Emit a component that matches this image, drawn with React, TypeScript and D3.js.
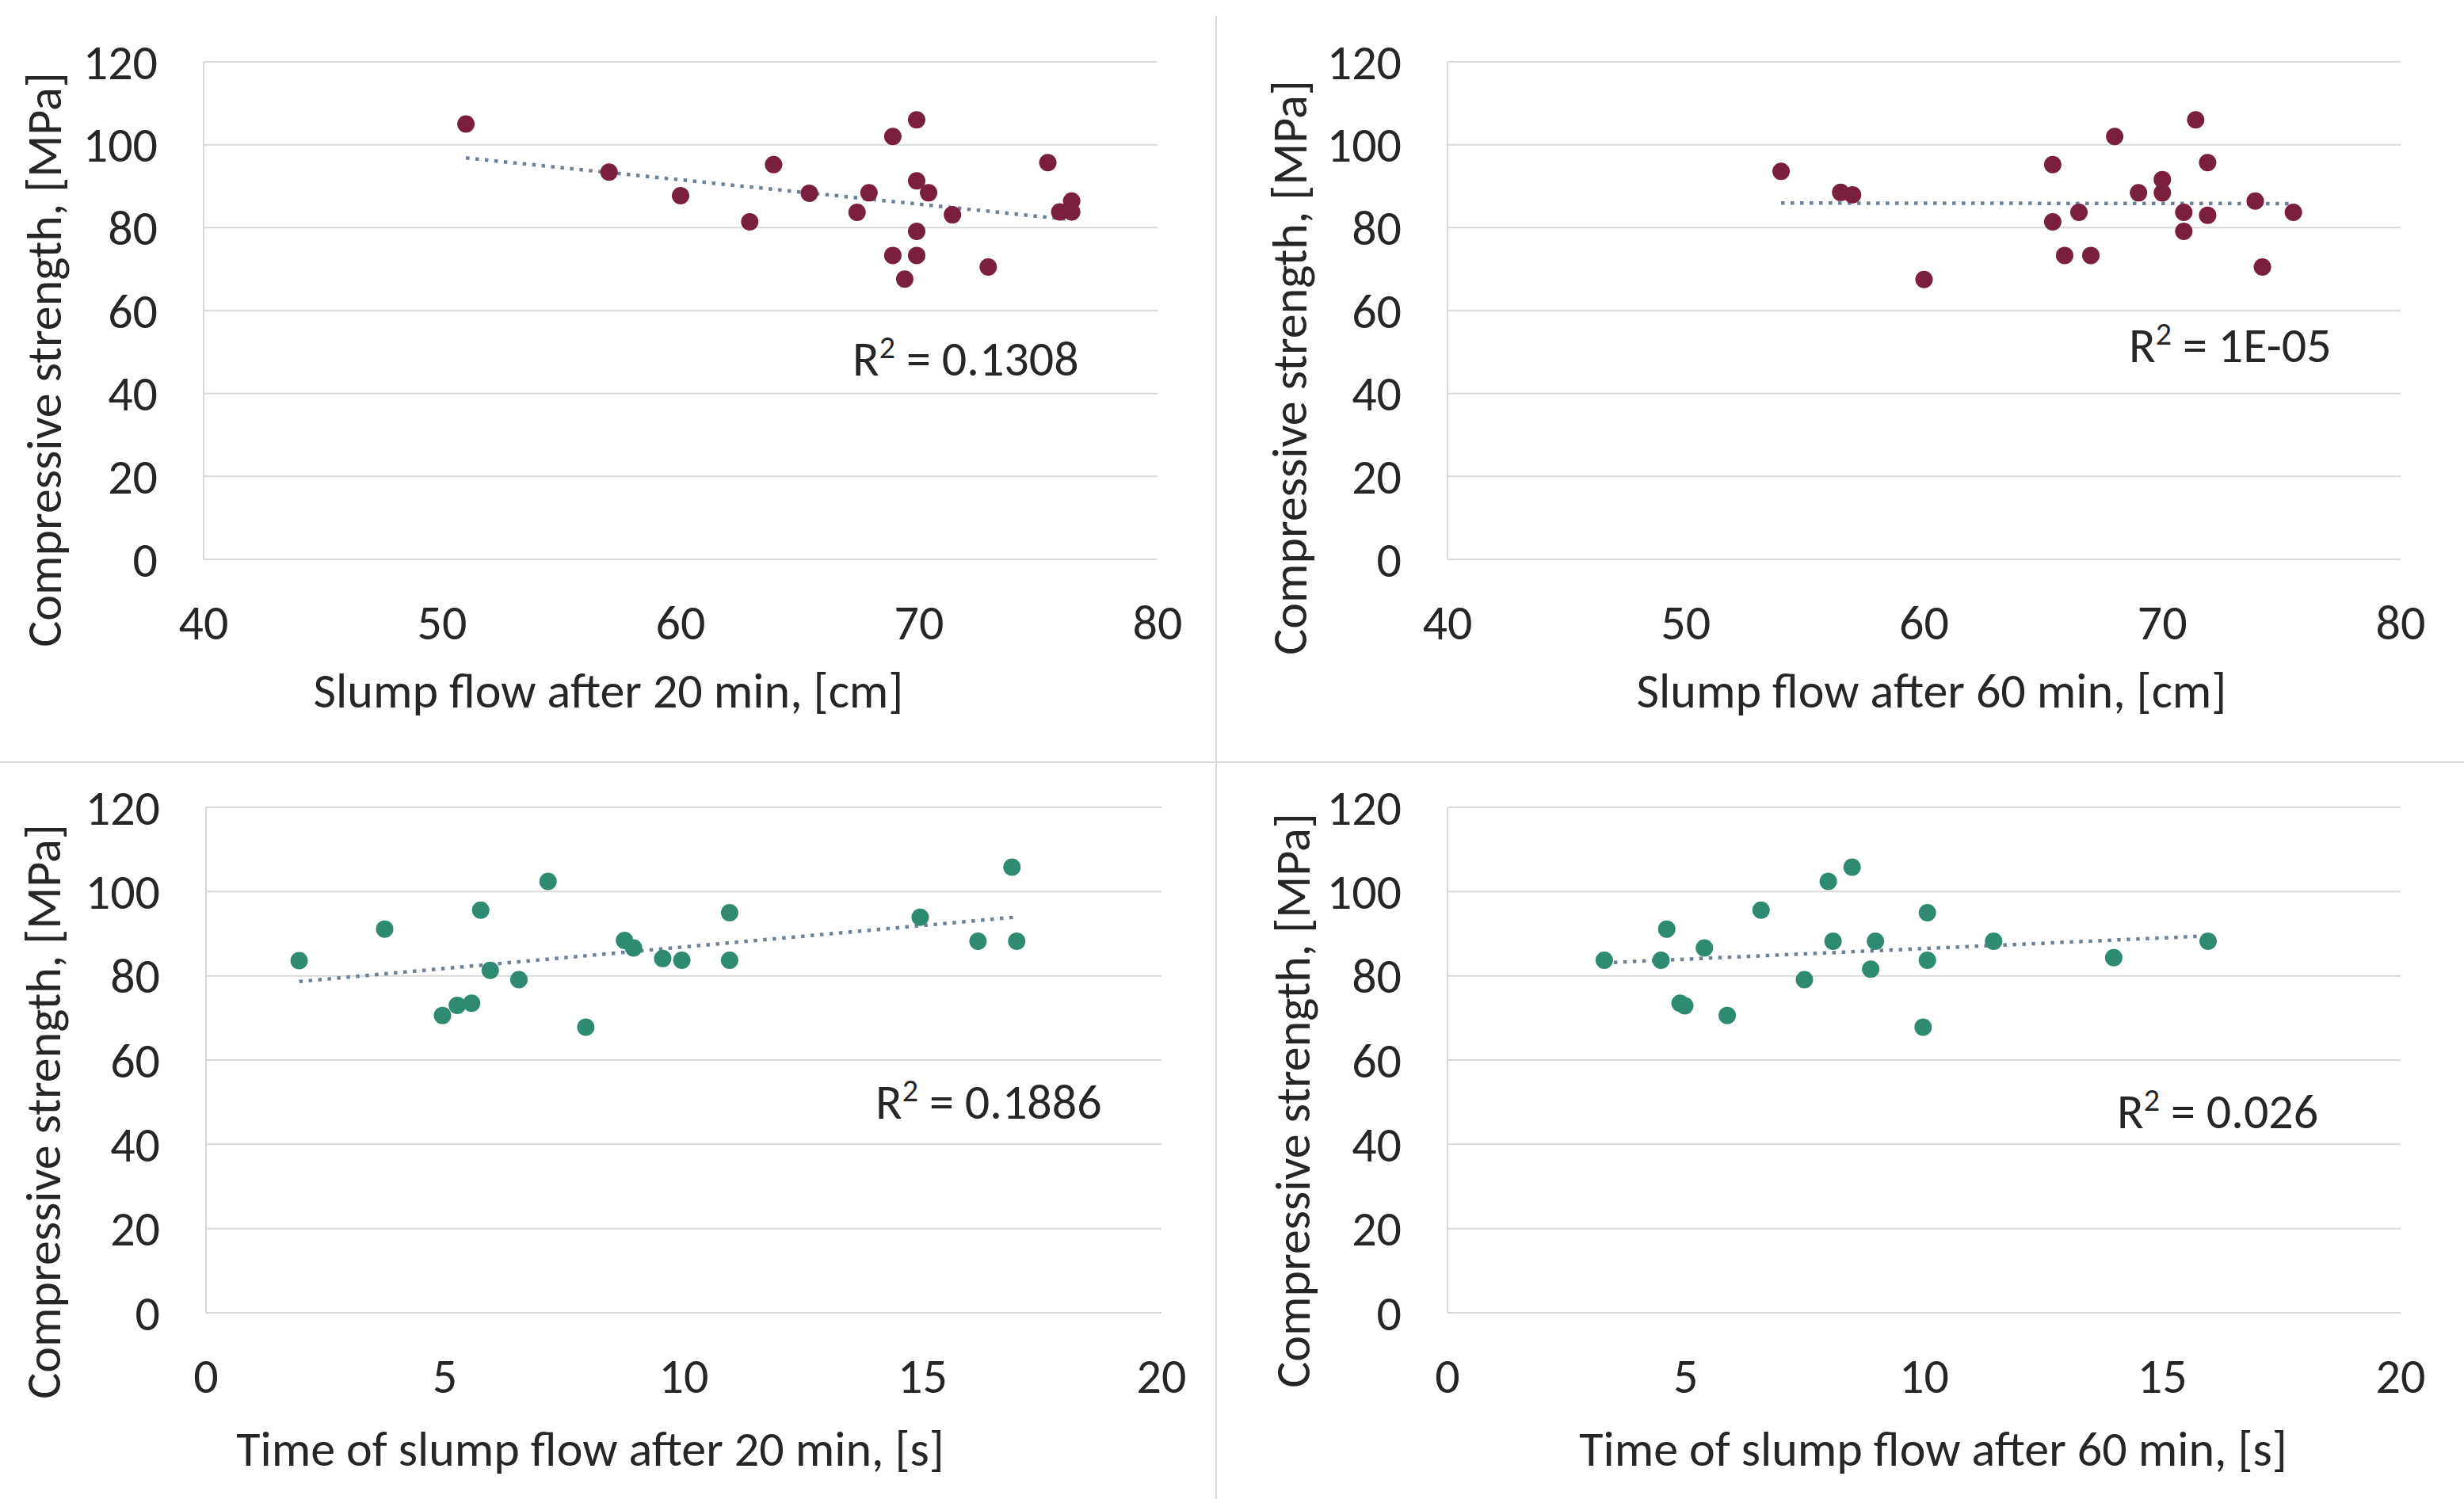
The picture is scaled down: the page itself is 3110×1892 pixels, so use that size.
import React, { useRef, useEffect } from 'react';
import * as d3 from 'd3';

// values
const flow20 = [51, 57, 60, 62.9, 63.9, 65.4, 67.4, 67.9, 68.9, 68.9, 69.4, 69.9, 69.9, 69.9, 69.9, 70.4, 71.4, 72.9, 75.4, 75.9, 76.4, 76.4];
const strength20 = [105, 93.4, 87.7, 81.4, 95.2, 88.3, 83.7, 88.4, 102, 73.3, 67.6, 106, 91.3, 79.1, 73.3, 88.4, 83.1, 70.5, 95.7, 83.8, 86.4, 83.8];

const flow60 = [54, 56.5, 57, 60, 65.4, 65.4, 65.9, 66.5, 67, 68, 69, 70, 70, 70.9, 70.9, 71.4, 71.9, 71.9, 73.9, 74.2, 75.5];
const strength60 = [93.6, 88.5, 87.9, 67.5, 95.2, 81.4, 73.3, 83.7, 73.3, 102, 88.4, 91.6, 88.4, 83.7, 79.1, 106, 95.7, 83.0, 86.4, 70.5, 83.7];

const time20 = [1.95, 3.74, 4.95, 5.26, 5.56, 5.75, 5.95, 6.55, 7.16, 7.95, 8.76, 8.95, 9.56, 9.96, 10.96, 10.96, 14.95, 16.16, 16.87, 16.97];
const strengthT20 = [83.6, 91.1, 70.6, 73.0, 73.5, 95.6, 81.3, 79.1, 102.4, 67.8, 88.4, 86.6, 84.1, 83.7, 95.0, 83.7, 93.9, 88.2, 105.8, 88.2];

const time60 = [3.29, 4.48, 4.6, 4.88, 4.98, 5.39, 5.87, 6.58, 7.49, 7.99, 8.09, 8.49, 8.88, 8.98, 9.98, 10.07, 10.07, 11.46, 13.98, 15.96];
const strengthT60 = [83.7, 83.7, 91.1, 73.5, 72.9, 86.6, 70.6, 95.6, 79.1, 102.4, 88.2, 105.8, 81.6, 88.2, 67.8, 95.0, 83.7, 88.2, 84.3, 88.2];

const yTicks = [0, 20, 40, 60, 80, 100, 120];
const flowTicks = [40, 50, 60, 70, 80];
const timeTicks = [0, 5, 10, 15, 20];

const yTitle = 'Compressive strength, [MPa]';
const r2Labels = ['0.1308', '1E-05', '0.1886', '0.026'];

const MAROON = '#7a1f3d';
const TEAL = '#2f8a72';
const GRID = '#d9d9d9';
const INK = '#262626';
const FONT = "Carlito, Calibri, Lato, 'Liberation Sans', sans-serif";

const panels = [
  { xs: flow20, ys: strength20, xTicks: flowTicks, color: MAROON, xTitle: 'Slump flow after 20 min, [cm]', r2: r2Labels[0],
    left: 257, right: 1461, top: 78, bottom: 706, yTitleX: 55, yTitleY: 454, xTitleX: 768, xTitleY: 893, r2X: 1076, r2Y: 474 },
  { xs: flow60, ys: strength60, xTicks: flowTicks, color: MAROON, xTitle: 'Slump flow after 60 min, [cm]', r2: r2Labels[1],
    left: 1827, right: 3030, top: 78, bottom: 706, yTitleX: 1627, yTitleY: 464, xTitleX: 2438, xTitleY: 893, r2X: 2687, r2Y: 457 },
  { xs: time20, ys: strengthT20, xTicks: timeTicks, color: TEAL, xTitle: 'Time of slump flow after 20 min, [s]', r2: r2Labels[2],
    left: 260, right: 1466, top: 1019, bottom: 1657, yTitleX: 54, yTitleY: 1403, xTitleX: 745, xTitleY: 1850, r2X: 1105, r2Y: 1412 },
  { xs: time60, ys: strengthT60, xTicks: timeTicks, color: TEAL, xTitle: 'Time of slump flow after 60 min, [s]', r2: r2Labels[3],
    left: 1827, right: 3030, top: 1019, bottom: 1657, yTitleX: 1631, yTitleY: 1389, xTitleX: 2440, xTitleY: 1850, r2X: 2672, r2Y: 1424 },
];

const W = 3110;
const H = 1892;

function fitLine(xs, ys) {
  const mx = d3.mean(xs);
  const my = d3.mean(ys);
  let sxy = 0, sxx = 0;
  xs.forEach((x, i) => { sxy += (x - mx) * (ys[i] - my); sxx += (x - mx) * (x - mx); });
  const slope = sxy / sxx;
  return { slope, intercept: my - slope * mx };
}

const App = () => {
  const svgRef = useRef(null);

  useEffect(() => {
    const svg = d3.select(svgRef.current);
    svg.selectAll('*').remove();

    svg.append('rect').attr('width', W).attr('height', H).attr('fill', '#fff');

    // panel dividers
    svg.append('line').attr('x1', 1535).attr('x2', 1535).attr('y1', 20).attr('y2', H)
      .attr('stroke', GRID).attr('stroke-width', 2);
    svg.append('line').attr('x1', 0).attr('x2', W).attr('y1', 962).attr('y2', 962)
      .attr('stroke', GRID).attr('stroke-width', 2);

    panels.forEach(p => {
      const x = d3.scaleLinear().domain(d3.extent(p.xTicks)).range([p.left, p.right]);
      const y = d3.scaleLinear().domain([0, 120]).range([p.bottom, p.top]);
      const g = svg.append('g').style('font-family', FONT);

      g.selectAll('line.grid').data(yTicks).join('line')
        .attr('class', 'grid')
        .attr('x1', p.left).attr('x2', p.right)
        .attr('y1', d => y(d)).attr('y2', d => y(d))
        .attr('stroke', GRID).attr('stroke-width', 2);

      g.append('line')
        .attr('x1', p.left).attr('x2', p.left)
        .attr('y1', p.top).attr('y2', p.bottom)
        .attr('stroke', GRID).attr('stroke-width', 2);

      g.selectAll('text.ytick').data(yTicks).join('text')
        .attr('class', 'ytick')
        .attr('x', p.left - 58)
        .attr('y', d => y(d))
        .attr('dy', '0.35em')
        .attr('text-anchor', 'end')
        .attr('font-size', 62)
        .attr('fill', INK)
        .text(d => d);

      g.selectAll('text.xtick').data(p.xTicks).join('text')
        .attr('class', 'xtick')
        .attr('x', d => x(d))
        .attr('y', p.bottom + 101)
        .attr('text-anchor', 'middle')
        .attr('font-size', 62)
        .attr('fill', INK)
        .text(d => d);

      g.append('text')
        .attr('transform', `translate(${p.yTitleX},${p.yTitleY}) rotate(-90)`)
        .attr('dy', '0.35em')
        .attr('text-anchor', 'middle')
        .attr('font-size', 62)
        .attr('fill', INK)
        .text(yTitle);

      g.append('text')
        .attr('x', p.xTitleX)
        .attr('y', p.xTitleY)
        .attr('text-anchor', 'middle')
        .attr('font-size', 62)
        .attr('fill', INK)
        .text(p.xTitle);

      // linear trendline
      const fit = fitLine(p.xs, p.ys);
      const [x0, x1] = d3.extent(p.xs);
      g.append('line')
        .attr('x1', x(x0)).attr('y1', y(fit.intercept + fit.slope * x0))
        .attr('x2', x(x1)).attr('y2', y(fit.intercept + fit.slope * x1))
        .attr('stroke', '#6f8194')
        .attr('stroke-width', 4.5)
        .attr('stroke-dasharray', '4.5 7.5');

      g.selectAll('circle').data(p.xs.map((v, i) => [v, p.ys[i]])).join('circle')
        .attr('cx', d => x(d[0]))
        .attr('cy', d => y(d[1]))
        .attr('r', 11)
        .attr('fill', p.color);

      const r2 = g.append('text')
        .attr('x', p.r2X)
        .attr('y', p.r2Y)
        .attr('font-size', 62)
        .attr('fill', INK);
      r2.append('tspan').text('R');
      r2.append('tspan').attr('font-size', 40).attr('dy', -22).text('2');
      r2.append('tspan').attr('dy', 22).text(` = ${p.r2}`);
    });
  }, []);

  return (
    <svg ref={svgRef} width={W} height={H}
      style={{ position: 'absolute', left: 0, top: 0, display: 'block' }} />
  );
};

export default App;
